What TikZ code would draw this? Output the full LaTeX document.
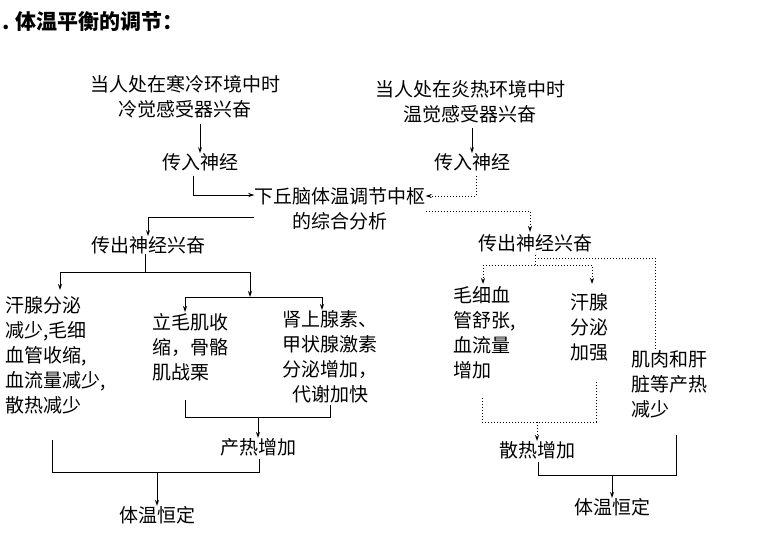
\documentclass[tikz,border=0pt]{standalone}
\usepackage{fontspec}
\setmainfont{Noto Sans CJK SC}
\usetikzlibrary{arrows.meta}
\begin{document}
\begin{tikzpicture}[x=1pt,y=-1pt,
  txt/.style={inner sep=0pt,font=\fontsize{19}{25}\selectfont},
  lft/.style={txt,align=left,anchor=north west},
  ln/.style={line width=1pt},
  ar/.style={ln,-{Stealth[length=6pt,width=4pt]}},
  dl/.style={ln,dotted},
  dar/.style={dl,-{Stealth[length=6pt,width=4pt]}}]
\useasboundingbox (0,0) rectangle (762,536);
\node[txt,anchor=west,font=\fontsize{21}{24}\selectfont\bfseries] (title) at (2,22) {. 体温平衡的调节：};
% left top
\node[txt,align=center] (cold) at (185,97) {当人处在寒冷环境中时\\冷觉感受器兴奋};
\node[txt] (in1) at (200,162) {传入神经};
\node[txt,align=center] (center) at (340,209) {下丘脑体温调节中枢\\的综合分析};
\node[txt,align=center] (hot) at (470,102) {当人处在炎热环境中时\\温觉感受器兴奋};
\node[txt] (in2) at (472,162) {传入神经};
\draw[ar] (200,124) -- (in1.north);
\draw[ar] (472,128) -- (in2.north);
\draw[ln,->,>={Stealth[length=6pt,width=4pt]}] (193,176) -- (193,195) -- (center.west|-0,195);
\draw[dar] (476,176) -- (476,196) -- (center.east|-0,196);
% left branch
\node[txt] (out1) at (148,245) {传出神经兴奋};
\draw[ar] (center.west|-0,217) -- (148,217) -- (out1.north);
\coordinate (b1) at (145,272);
\draw[ln] (out1.south-|b1) -- (b1);
\node[lft] (sweat1) at (5,296) {汗腺分泌\\减少,毛细\\血管收缩,\\血流量减少,\\散热减少};
\draw[ar] (60,272) -- (250,272) (60,272) -- (60,290);
\draw[ar] (250,272) -- (250,297);
\node[lft] (hair) at (152,313) {立毛肌收\\缩，骨骼\\肌战栗};
\node[txt,align=center] (horm) at (330,357) {肾上腺素、\\甲状腺激素\\分泌增加，\\代谢加快};
\draw[ar] (185,297) -- (322,297) -- (322,310);
\draw[ar] (185,297) -- (185,312);
\node[txt] (heat1) at (258,447) {产热增加};
\draw[ln] (185,400) -- (185,417) -- (330,417) -- (330,405);
\draw[ar] (258,417) -- (heat1.north);
\node[txt] (const1) at (157,515) {体温恒定};
\draw[ln] (52,440) -- (52,472) -- (259,472) -- (259,459);
\draw[ar] (157,472) -- (const1.north);
% right branch
\node[txt] (out2) at (535,243) {传出神经兴奋};
\draw[dar] (center.east|-0,211) -- (530,211) -- (530,232);
\node[lft] (cap) at (453,286) {毛细血\\管舒张,\\血流量\\增加};
\node[lft] (sweat2) at (570,293) {汗腺\\分泌\\加强};
\node[lft] (musc) at (631,350) {肌肉和肝\\脏等产热\\减少};
\draw[dl] (535,255) -- (535,265);
\draw[dar] (483,265) -- (592,265) -- (592,284);
\draw[dar] (483,265) -- (483,284);
\draw[dl] (535,258) -- (655,258) -- (655,350);
\node[txt] (heat2) at (537,450) {散热增加};
\draw[dl] (482,398) -- (482,422) -- (596,422) -- (596,380);
\draw[dar] (537,422) -- (heat2.north);
\node[txt] (const2) at (612,507) {体温恒定};
\draw[ln] (538,462) -- (538,475) -- (676,475) -- (676,435);
\draw[ar] (612,475) -- (const2.north);
\end{tikzpicture}
\end{document}
